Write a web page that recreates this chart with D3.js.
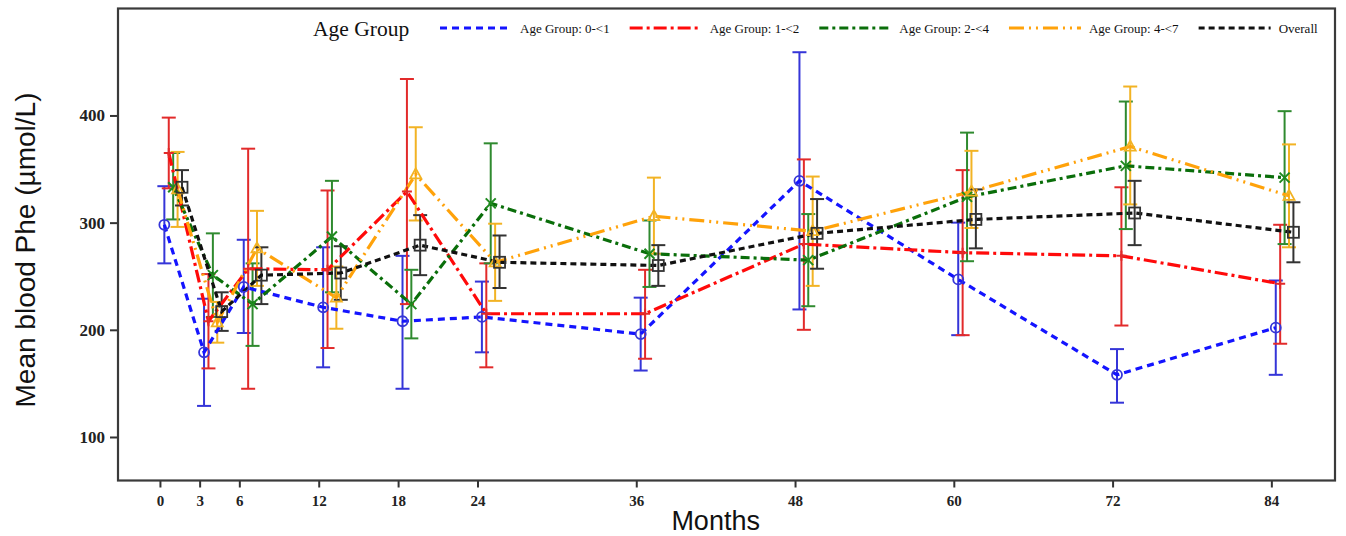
<!DOCTYPE html>
<html>
<head>
<meta charset="utf-8">
<title>Mean blood Phe by age group</title>
<script src="https://cdn.jsdelivr.net/npm/d3@7/dist/d3.min.js"></script>
<style>
body { margin: 0; background: #fff; }
.axis path, .axis line { fill: none; stroke: #333; }
.axis text { font-family: "Liberation Serif", serif; font-weight: bold; fill: #222; }
</style>
</head>
<body>
<script>

// months of follow-up
var months = [0, 3, 6, 12, 18, 24, 36, 48, 60, 72, 84];
var xTicks = [0, 3, 6, 12, 18, 24, 36, 48, 60, 72, 84];
var yTicks = [100, 200, 300, 400];

var groupNames = ["Age Group: 0-<1", "Age Group: 1-<2", "Age Group: 2-<4", "Age Group: 4-<7", "Overall"];

// mean Phe and error bar ends
var mean01 = [298, 179, 240, 221, 208, 212, 196, 339, 247, 158, 202];
var lo01   = [262, 129, 197, 165, 145, 179, 162, 219, 195, 132, 158];
var hi01   = [334, 229, 284, 277, 269, 245, 230, 459, 300, 182, 246];

var mean12 = [365, 208, 257, 256, 329, 215, 215, 280, 272, 269, 243];
var lo12   = [332, 164, 145, 183, 224, 165, 173, 200, 195, 204, 187];
var hi12   = [398, 252, 369, 330, 434, 262, 256, 359, 349, 333, 298];

var mean24 = [333, 251, 224, 287, 224, 318, 271, 265, 324, 353, 342];
var lo24   = [303, 212, 185, 235, 192, 262, 240, 222, 264, 294, 280];
var hi24   = [365, 290, 262, 339, 256, 374, 302, 308, 384, 413, 404];

var mean47 = [331, 207, 276, 230, 345, 263, 306, 292, 329, 371, 325];
var lo47   = [296, 188, 241, 201, 302, 227, 271, 241, 295, 317, 277];
var hi47   = [366, 226, 311, 259, 389, 299, 342, 343, 367, 427, 373];

var meanAll = [333, 217, 251, 253, 279, 263, 260, 290, 303, 309, 291];
var loAll   = [316, 199, 224, 228, 251, 239, 241, 257, 276, 279, 263];
var hiAll   = [349, 235, 277, 278, 307, 288, 279, 322, 331, 339, 319];

var means = [mean01, mean12, mean24, mean47, meanAll];
var los = [lo01, lo12, lo24, lo47, loAll];
var his = [hi01, hi12, hi24, hi47, hiAll];

// look of each group
var styles = [
  {line: "#1414ff", bar: "#3535d8", dash: "7,5", marker: "circle"},
  {line: "#ff0a0a", bar: "#e22a2a", dash: "13,4,3,4", marker: "plus"},
  {line: "#0a6e0a", bar: "#2f8a2f", dash: "9,4,3,4", marker: "cross"},
  {line: "#ffa20a", bar: "#f2b324", dash: "15,5,2,5,2,5", marker: "triangle"},
  {line: "#111", bar: "#333", dash: "6,4", marker: "square"}
];

var W = 1346, H = 536;
var margin = {top: 8.5, right: 11, bottom: 55.5, left: 118};
var width = W - margin.left - margin.right,
    height = H - margin.top - margin.bottom;

var svg = d3.select("body").append("svg")
    .attr("width", W)
    .attr("height", H);

var g = svg.append("g")
    .attr("transform", "translate(" + margin.left + "," + margin.top + ")");

var x = d3.scaleLinear().domain([-3.17, 88.81]).range([0, width]);
var y = d3.scaleLinear().domain([59.4, 499.8]).range([height, 0]);

// each group is nudged a third of a month to the right of the last
function xPos(k, i) { return x(months[i] + (k + 1) / 3); }

// axes
g.append("g")
    .attr("class", "x axis")
    .attr("transform", "translate(0," + height + ")")
    .call(d3.axisBottom(x).tickValues(xTicks).tickSize(7).tickPadding(8).tickSizeOuter(0))
    .call(function(a) { a.select(".domain").remove(); })
    .selectAll("text").style("font-size", "15px");

g.append("g")
    .attr("class", "y axis")
    .call(d3.axisLeft(y).tickValues(yTicks).tickSize(8).tickPadding(5).tickSizeOuter(0))
    .call(function(a) { a.select(".domain").remove(); })
    .selectAll("text").style("font-size", "17px");

g.selectAll(".axis line").attr("stroke-width", 2);

g.append("rect")
    .attr("width", width)
    .attr("height", height)
    .attr("fill", "none")
    .attr("stroke", "#3a3a3a")
    .attr("stroke-width", 2.2);

// error bars
var capW = 7;
means.forEach(function(m, k) {
  var st = styles[k];
  var eb = g.append("g").attr("stroke", st.bar).attr("stroke-width", 2).attr("fill", "none");
  months.forEach(function(mo, i) {
    var cx = xPos(k, i);
    eb.append("line").attr("x1", cx).attr("x2", cx).attr("y1", y(los[k][i])).attr("y2", y(his[k][i]));
    eb.append("line").attr("x1", cx - capW).attr("x2", cx + capW).attr("y1", y(los[k][i])).attr("y2", y(los[k][i]));
    eb.append("line").attr("x1", cx - capW).attr("x2", cx + capW).attr("y1", y(his[k][i])).attr("y2", y(his[k][i]));
  });
});

// lines
var line = d3.line();
means.forEach(function(m, k) {
  var st = styles[k];
  g.append("path")
      .attr("d", line(m.map(function(v, i) { return [xPos(k, i), y(v)]; })))
      .attr("fill", "none")
      .attr("stroke", st.line)
      .attr("stroke-width", 3.2)
      .attr("stroke-dasharray", st.dash);
});

// markers
function drawMarker(sel, type, cx, cy, color) {
  if (type == "circle") {
    sel.append("circle").attr("cx", cx).attr("cy", cy).attr("r", 5)
      .attr("fill", "none").attr("stroke", color).attr("stroke-width", 1.8);
  } else if (type == "plus") {
    sel.append("path").attr("d", "M" + (cx - 5) + "," + cy + "H" + (cx + 5) + "M" + cx + "," + (cy - 5) + "V" + (cy + 5))
      .attr("stroke", color).attr("stroke-width", 2);
  } else if (type == "cross") {
    sel.append("path").attr("d", "M" + (cx - 5) + "," + (cy - 5) + "L" + (cx + 5) + "," + (cy + 5) +
        "M" + (cx - 5) + "," + (cy + 5) + "L" + (cx + 5) + "," + (cy - 5))
      .attr("stroke", color).attr("stroke-width", 2);
  } else if (type == "triangle") {
    sel.append("path").attr("d", "M" + cx + "," + (cy - 6) + "L" + (cx + 5.5) + "," + (cy + 4) + "L" + (cx - 5.5) + "," + (cy + 4) + "Z")
      .attr("fill", "none").attr("stroke", color).attr("stroke-width", 1.8);
  } else {
    sel.append("rect").attr("x", cx - 5.5).attr("y", cy - 5.5).attr("width", 11).attr("height", 11)
      .attr("fill", "none").attr("stroke", color).attr("stroke-width", 1.8);
  }
}

means.forEach(function(m, k) {
  var mg = g.append("g");
  m.forEach(function(v, i) {
    drawMarker(mg, styles[k].marker, xPos(k, i), y(v), k == 2 ? "#1f8a1f" : styles[k].bar);
  });
});

// axis titles
svg.append("text")
    .attr("x", margin.left + x(42))
    .attr("y", 530)
    .attr("text-anchor", "middle")
    .style("font-family", "Liberation Sans, Arial, sans-serif")
    .style("font-size", "27px")
    .attr("fill", "#111")
    .text("Months");

svg.append("text")
    .attr("transform", "translate(35," + 250 + ") rotate(-90)")
    .attr("text-anchor", "middle")
    .style("font-family", "Liberation Sans, Arial, sans-serif")
    .style("font-size", "28px")
    .attr("fill", "#111")
    .text("Mean blood Phe (\u00b5mol/L)");

// legend inside the top of the frame
var leg = svg.append("g").attr("transform", "translate(0,28)");
leg.append("text")
    .attr("x", 313)
    .attr("y", 8)
    .style("font-family", "Liberation Serif, serif")
    .style("font-size", "21.5px")
    .attr("fill", "#111")
    .text("Age Group");

var lx = 440;
groupNames.forEach(function(name, k) {
  leg.append("line")
      .attr("x1", lx).attr("x2", lx + 72)
      .attr("stroke", styles[k].line)
      .attr("stroke-width", 3.2)
      .attr("stroke-dasharray", styles[k].dash);
  var t = leg.append("text")
      .attr("x", lx + 80)
      .attr("y", 4.5)
      .style("font-family", "Liberation Serif, serif")
      .style("font-size", "13px")
      .attr("fill", "#111")
      .text(name);
  lx = lx + 80 + t.node().getComputedTextLength() + 20;
});

</script>
</body>
</html>
